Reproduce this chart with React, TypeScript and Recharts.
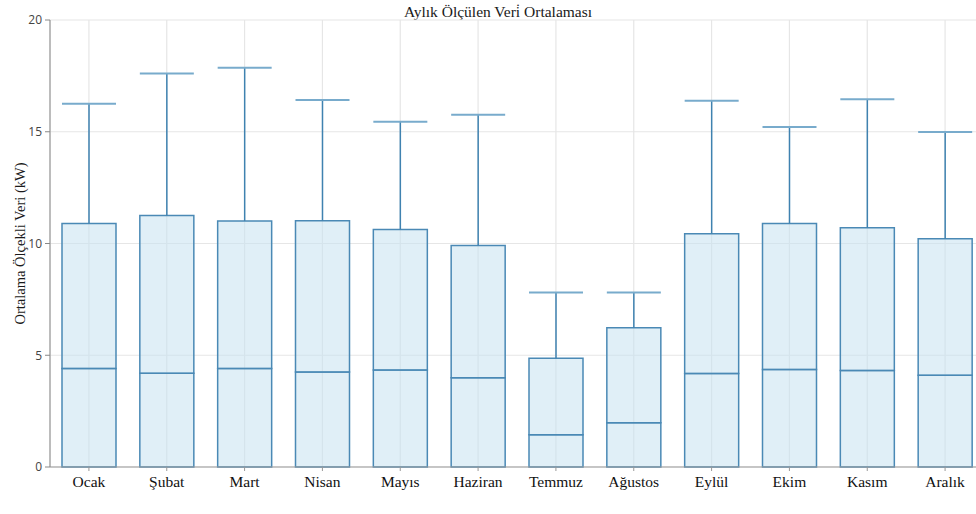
import React from 'react';
import {
    ComposedChart,
    Bar,
    XAxis,
    YAxis,
    CartesianGrid,
} from 'recharts';

const months = ['Ocak', 'Şubat', 'Mart', 'Nisan', 'Mayıs', 'Haziran', 'Temmuz', 'Ağustos', 'Eylül', 'Ekim', 'Kasım', 'Aralık'];
const medians = [4.41, 4.2, 4.41, 4.25, 4.34, 3.99, 1.44, 1.98, 4.18, 4.36, 4.32, 4.1];
const upperQuartiles = [10.9, 11.25, 11.01, 11.02, 10.63, 9.91, 4.87, 6.23, 10.44, 10.89, 10.7, 10.21];
const maxima = [16.25, 17.61, 17.86, 16.42, 15.45, 15.76, 7.81, 7.81, 16.39, 15.21, 16.45, 14.99];
const yTicks = [0, 5, 10, 15, 20];

// stacked pieces: 0..median, median..q3, q3..max (whisker)
const data = months.map((name, i) => ({
    name,
    lower: medians[i],
    upper: upperQuartiles[i] - medians[i],
    whisker: maxima[i] - upperQuartiles[i],
}));

const BOX_STROKE = '#4a89b5';
const BOX_FILL = 'rgba(198, 225, 240, 0.55)';

const Whisker = (props: any) => {
    const { x, y, width, height } = props;
    const cx = x + width / 2;
    return (
        <g>
            <line x1={cx} y1={y + height} x2={cx} y2={y} stroke="#3f82b0" strokeWidth={1.5} />
            <line x1={x} y1={y} x2={x + width} y2={y} stroke="#78abcc" strokeWidth={2} />
        </g>
    );
};

export default function App() {
    return (
        <div style={{ position: 'fixed', left: 0, top: 0, width: 976, height: 514, overflow: 'hidden', background: '#fff' }}>
            <div
                style={{
                    position: 'absolute',
                    left: 0,
                    width: 996,
                    top: 2,
                    textAlign: 'center',
                    fontFamily: '"Liberation Serif", serif',
                    fontSize: 15.5,
                    color: '#1a1a1a',
                    lineHeight: '20px',
                }}
            >
                Aylık Ölçülen Veri̇ Ortalaması
            </div>
            <ComposedChart
                width={990}
                height={514}
                data={data}
                margin={{ top: 20, right: 6, bottom: 17, left: 0 }}
                barSize={54}
            >
                <CartesianGrid stroke="#e6e6e6" strokeWidth={1.2} />
                <XAxis
                    dataKey="name"
                    height={30}
                    tickSize={4}
                    tickMargin={5}
                    stroke="#999"
                    tick={{ fill: '#111', fontSize: 15.5, fontFamily: '"Liberation Serif", serif' }}
                />
                <YAxis
                    width={50}
                    domain={[0, 20]}
                    ticks={yTicks}
                    tickSize={5}
                    tickMargin={3}
                    stroke="#888"
                    tick={{ fill: '#444', fontSize: 12, fontFamily: '"Open Sans", sans-serif' }}
                    label={{
                        value: 'Ortalama Ölçekli Veri (kW)',
                        angle: -90,
                        position: 'insideLeft',
                        offset: 20,
                        style: { textAnchor: 'middle', fill: '#1a1a1a', fontSize: 14.5, fontFamily: '"Liberation Serif", serif' },
                    }}
                />
                <Bar dataKey="lower" stackId="box" fill={BOX_FILL} stroke={BOX_STROKE} strokeWidth={1.5} isAnimationActive={false} />
                <Bar dataKey="upper" stackId="box" fill={BOX_FILL} stroke={BOX_STROKE} strokeWidth={1.5} isAnimationActive={false} />
                <Bar dataKey="whisker" stackId="box" shape={<Whisker />} isAnimationActive={false} />
            </ComposedChart>
        </div>
    );
}
